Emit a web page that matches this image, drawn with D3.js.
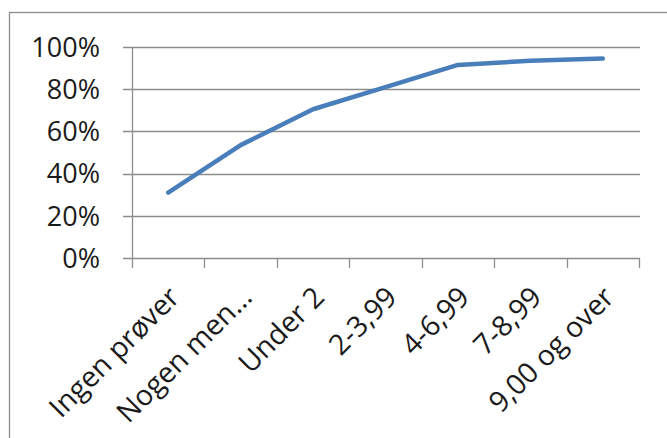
<!DOCTYPE html>
<html><head><meta charset="utf-8">
<script src="https://cdn.jsdelivr.net/npm/d3@7"></script>
<style>html,body{margin:0;padding:0;background:#fff;}svg{display:block;}</style>
</head><body>
<svg id="c" width="667" height="438"></svg>
<script>
const categories = ["Ingen prøver","Nogen men…","Under 2","2-3,99","4-6,99","7-8,99","9,00 og over"];
const values = [0.31, 0.535, 0.705, 0.81, 0.915, 0.935, 0.945];
const yTicks = [0, 0.2, 0.4, 0.6, 0.8, 1.0];

(function(){
const svg = d3.select("#c");
const font = "'Open Sans', sans-serif";
const pL = 132, pR = 639, pT = 47, pB = 258;

svg.append("rect").attr("x",9.5).attr("y",12.5).attr("width",700).attr("height",500)
  .attr("fill","#fff").attr("stroke","#8c8c8c").attr("stroke-width",1.3);

const x = d3.scaleBand().domain(categories).range([pL,pR]).padding(0);
const y = d3.scaleLinear().domain([0,1]).range([pB,pT]);

svg.append("g").selectAll("line").data(yTicks).join("line")
  .attr("x1",pL-9).attr("x2",pR+1).attr("y1",d=>Math.round(y(d))+0.5).attr("y2",d=>Math.round(y(d))+0.5)
  .attr("stroke","#8c8c8c").attr("stroke-width",1.3);

svg.append("line").attr("x1",pL+0.5).attr("x2",pL+0.5).attr("y1",pT).attr("y2",pB+0.5)
  .attr("stroke","#8c8c8c").attr("stroke-width",1.3);

const tickPos = categories.map(c=>x(c)).concat([pR]);
svg.append("g").selectAll("line").data(tickPos).join("line")
  .attr("x1",d=>Math.round(d)+0.5).attr("x2",d=>Math.round(d)+0.5).attr("y1",pB).attr("y2",pB+10)
  .attr("stroke","#8c8c8c").attr("stroke-width",1.3);

svg.append("g").selectAll("text").data(yTicks).join("text")
  .attr("x",100).attr("y",d=>y(d)).attr("dy","0.36em").attr("text-anchor","end")
  .attr("font-family",font).attr("font-size",27).attr("fill","#1a1a1a")
  .text(d=>d3.format(".0%")(d));

svg.append("g").selectAll("text").data(categories).join("text")
  .attr("transform",d=>`translate(${x(d)+x.bandwidth()/2+13},299) rotate(-45)`)
  .attr("text-anchor","end")
  .attr("font-family",font).attr("font-size",28.5).attr("fill","#1a1a1a")
  .text(d=>d);

const line = d3.line().x((d,i)=>x(categories[i])+x.bandwidth()/2).y(d=>y(d));
svg.append("path").datum(values).attr("d",line).attr("fill","none")
  .attr("stroke","#4a7ebb").attr("stroke-width",4.5).attr("stroke-linejoin","round").attr("stroke-linecap","round");
})();
</script>
</body></html>
